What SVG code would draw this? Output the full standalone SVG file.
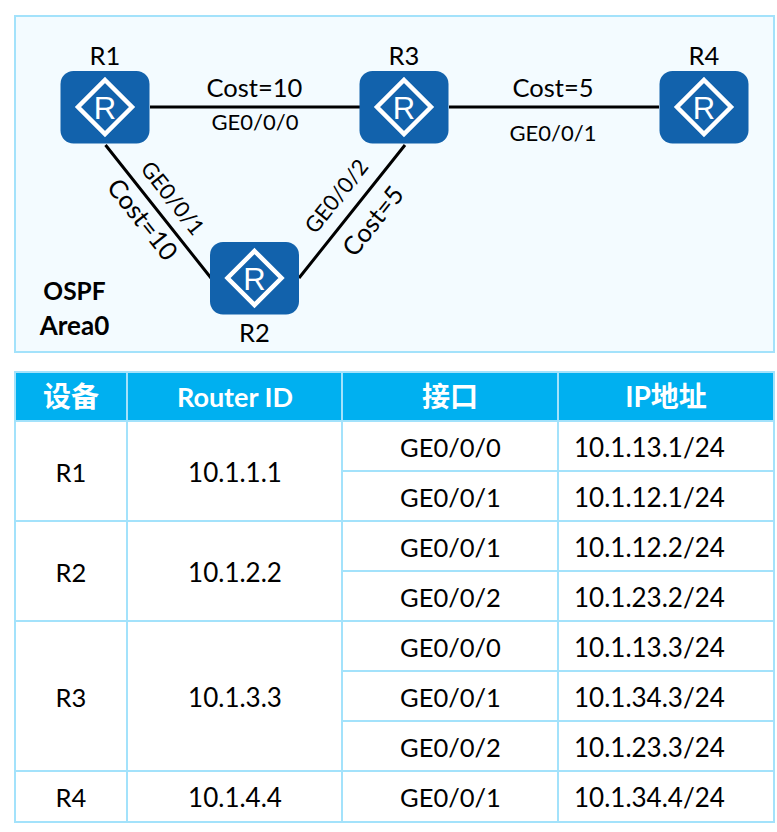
<svg xmlns="http://www.w3.org/2000/svg" width="777" height="832" viewBox="0 0 777 832">
<style>
text{font-family:"Lato","Noto Sans CJK SC",sans-serif;fill:#000;text-anchor:middle}
.a{font-size:25.500px}.n{font-size:26px}.b{font-size:22px}
.h{font-size:27px;font-weight:700;fill:#fff}
.k{font-size:28px}
.o{font-size:24.500px;font-weight:700}
.l{text-anchor:start}
.g{stroke:#a3e2fb;stroke-width:2;fill:none}
.c{stroke:#000;stroke-width:3;fill:none}
.d{stroke:#fff;stroke-width:4.500;fill:none}
.r{font-family:"Liberation Sans",sans-serif;font-size:31px;fill:#fff}
</style>
<defs>
<g id="router"><rect x="-44.500" y="-36" width="89" height="72.500" rx="13" fill="#1262ac"/><path class="d" d="M0-27 27 0 0 27-27 0Z"/><text class="r" y="11.500">R</text></g>
</defs>
<rect width="777" height="832" fill="#fff"/>
<rect x="15" y="16" width="759" height="336" class="g" style="fill:#f3fbff"/>
<g id="connectors">
<path class="c" d="M150 107H360M449 107H659"/>
<path class="c" d="M105.500 145 211 278M299 278 405 145"/>
</g>
<g id="R1"><use href="#router" x="105" y="107"/><text class="a" x="105" y="65">R1</text></g>
<g id="R3"><use href="#router" x="404" y="107"/><text class="a" x="404" y="65">R3</text></g>
<g id="R4"><use href="#router" x="704" y="107"/><text class="a" x="704" y="65">R4</text></g>
<g id="R2"><use href="#router" x="254.500" y="278"/><text class="a" x="254.500" y="342">R2</text></g>
<g id="labels">
<text class="a" x="254.500" y="97">Cost=10</text>
<text class="b" x="255" y="130">GE0/0/0</text>
<text class="a" x="553" y="97">Cost=5</text>
<text class="b" x="553" y="141">GE0/0/1</text>
<text class="b" transform="translate(166.500 203) rotate(51.500)">GE0/0/1</text>
<text class="a" transform="translate(135.500 225) rotate(51.500)">Cost=10</text>
<text class="b" transform="translate(342.500 201) rotate(-51.500)">GE0/0/2</text>
<text class="a" transform="translate(380 226.500) rotate(-51.500)">Cost=5</text>
<text class="o" x="74.500" y="300">OSPF</text>
<text class="o" x="74.500" y="335" style="font-size:26px">Area0</text>
</g>
<g id="table">
<rect x="15" y="372" width="759" height="49" fill="#00b0f0"/>
<path class="g" d="M15 372H774V822H15ZM15 421H774M15 521H774M15 621H774M15 771H774M342 471H774M342 571H774M342 671H774M342 721H774M127 372V822M342 372V822M558 372V822"/>
<text class="h k" x="71" y="407">设备</text><text class="h" x="235" y="407">Router ID</text><text class="h k" x="450" y="407">接口</text><text class="h k" x="666" y="407">IP地址</text>
<text class="a" x="71" y="482">R1</text><text class="n" x="235" y="482">10.1.1.1</text>
<text class="a" x="71" y="582">R2</text><text class="n" x="235" y="582">10.1.2.2</text>
<text class="a" x="71" y="707">R3</text><text class="n" x="235" y="707">10.1.3.3</text>
<text class="a" x="71" y="807">R4</text><text class="n" x="235" y="807">10.1.4.4</text>
<text class="a" x="450.500" y="457">GE0/0/0</text><text class="n l" x="574" y="457">10.1.13.1/24</text>
<text class="a" x="450.500" y="507">GE0/0/1</text><text class="n l" x="574" y="507">10.1.12.1/24</text>
<text class="a" x="450.500" y="557">GE0/0/1</text><text class="n l" x="574" y="557">10.1.12.2/24</text>
<text class="a" x="450.500" y="607">GE0/0/2</text><text class="n l" x="574" y="607">10.1.23.2/24</text>
<text class="a" x="450.500" y="657">GE0/0/0</text><text class="n l" x="574" y="657">10.1.13.3/24</text>
<text class="a" x="450.500" y="707">GE0/0/1</text><text class="n l" x="574" y="707">10.1.34.3/24</text>
<text class="a" x="450.500" y="757">GE0/0/2</text><text class="n l" x="574" y="757">10.1.23.3/24</text>
<text class="a" x="450.500" y="807">GE0/0/1</text><text class="n l" x="574" y="807">10.1.34.4/24</text>
</g>
</svg>
